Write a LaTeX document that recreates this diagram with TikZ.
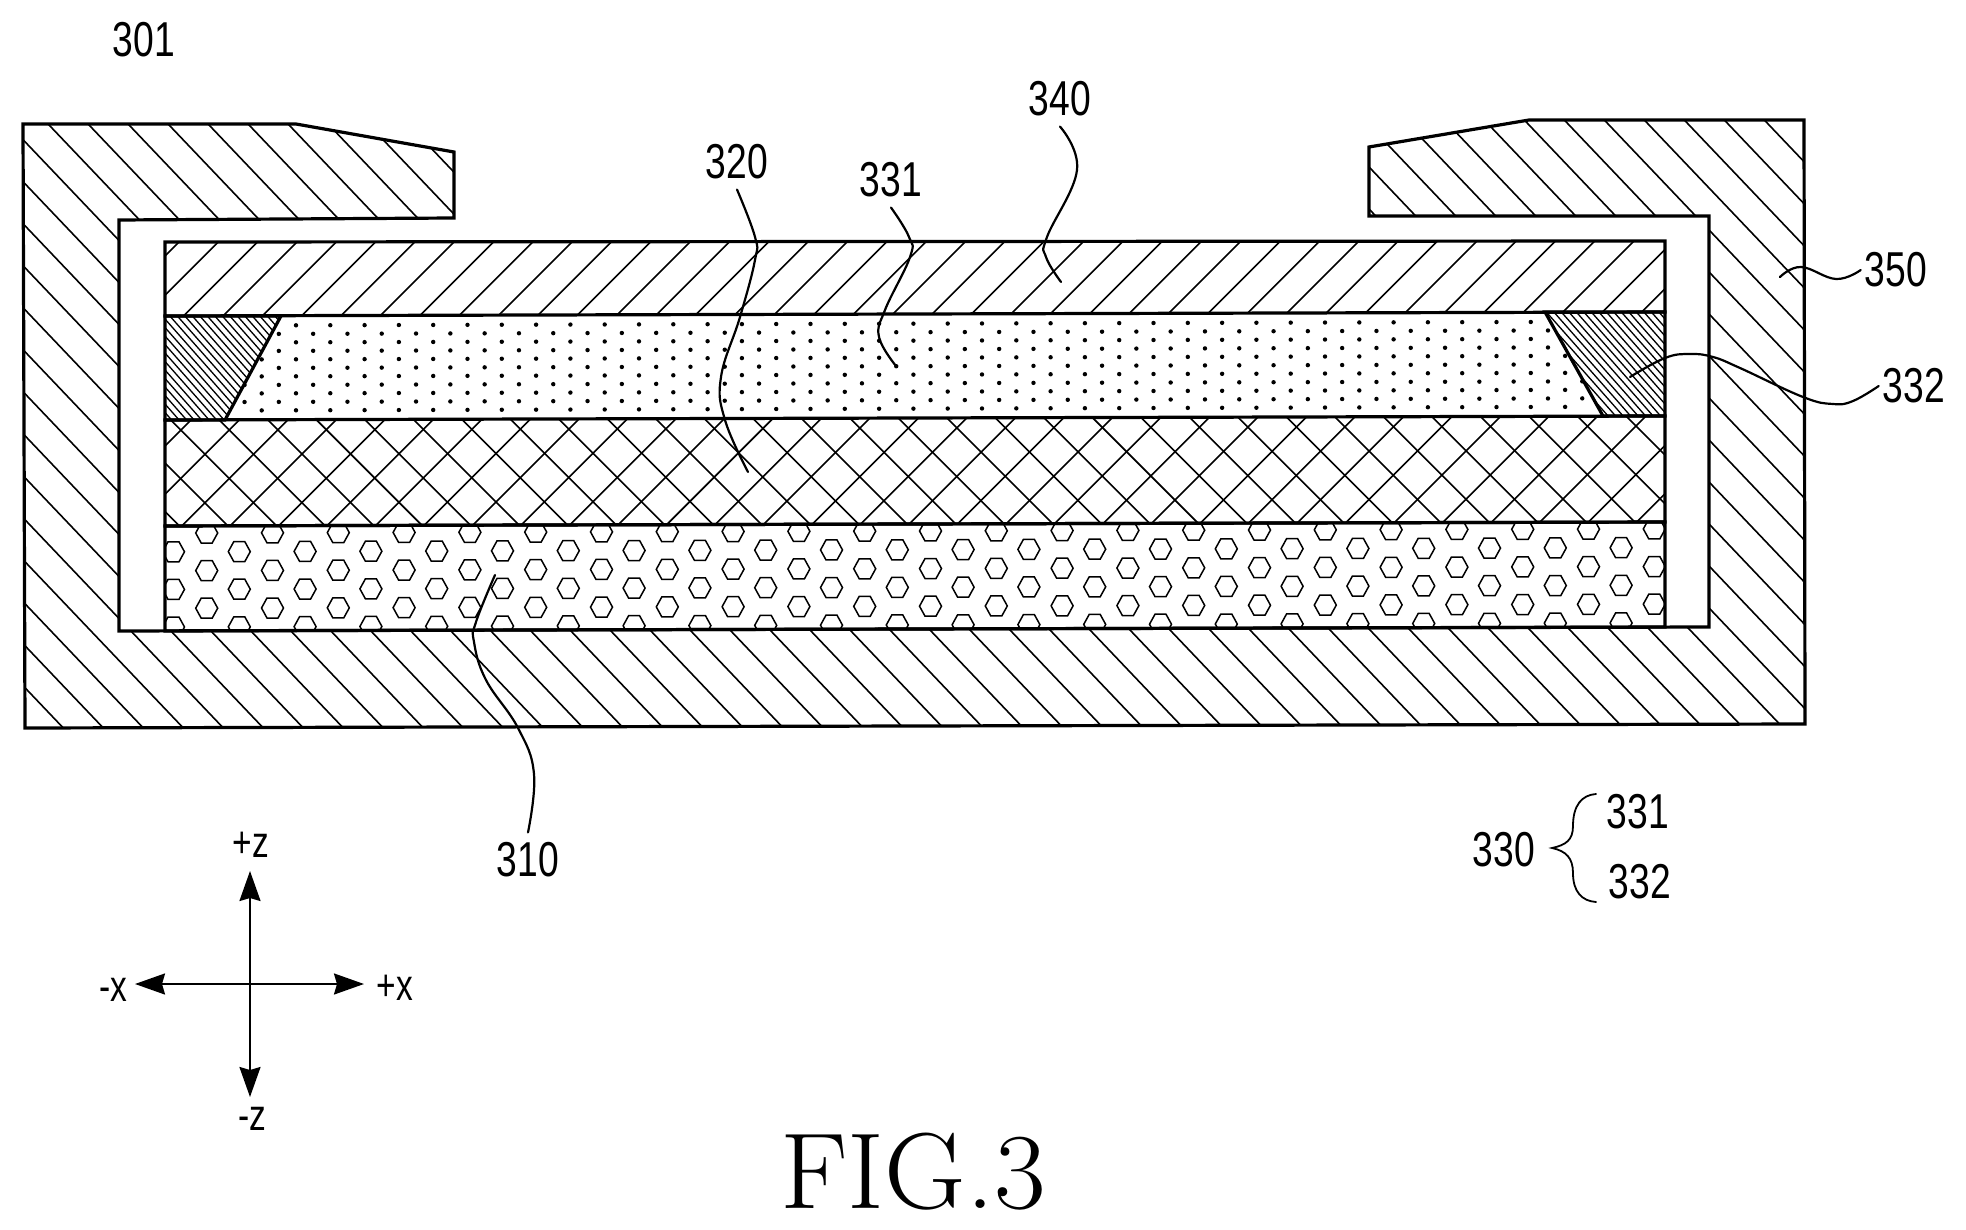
\documentclass[tikz,border=0pt]{standalone}
\usepackage{fontspec}
\usetikzlibrary{arrows.meta}
\newfontfamily\lblfont[FakeStretch=0.76]{Liberation Sans}
\tikzset{
	outline/.style={line width=3.2pt,line join=miter},
	hatchline/.style={line width=1.6pt},
	finehatch/.style={line width=1.3pt},
	hexcell/.style={line width=1.5pt},
	leader/.style={line width=2.2pt,line cap=round},
	bracket/.style={line width=1.8pt,line cap=round},
	lbl/.style={font=\lblfont\fontsize{49}{52}\selectfont,inner sep=10pt},
	axislbl/.style={font=\lblfont\fontsize{44}{46}\selectfont,inner sep=2pt},
	axisline/.style={line width=2.2pt,-{Stealth[length=30pt,width=21pt,inset=3pt]}},
}
\begin{document}
\begin{tikzpicture}[x=1pt,y=-1pt]
	\useasboundingbox (0,0) rectangle (1966,1230);
	
	% outlines
	\def\casepath{(23,124) -- (296,124) -- (454,152) -- (454,218) -- (119,220) -- (119,631) -- (1709,627) -- (1709,216) -- (1369,216) -- (1369,147) -- (1529,120) -- (1804,120) -- (1805,724) -- (25,728) -- cycle}
	\def\coverpath{(165,242) -- (1665,241) -- (1665,312) -- (165,316) -- cycle}
	\def\sheetpath{(281,316) -- (1545,312) -- (1603,416) -- (225,420) -- cycle}
	\def\leftpath{(165,316) -- (281,316) -- (225,420) -- (165,420) -- cycle}
	\def\rightpath{(1545,312) -- (1665,312) -- (1665,416) -- (1603,416) -- cycle}
	\def\gridpath{(165,420) -- (1665,416) -- (1665,522) -- (165,526) -- cycle}
	\def\basepath{(165,526) -- (1665,522) -- (1665,627) -- (165,631) -- cycle}
	
	% case hatching
	\begin{scope}
		\clip \casepath;
		\foreach \c in {-790,-750,...,1850}
			\draw[hatchline] (\c,0) -- ++(800,840);
	\end{scope}
	
	% cover
	\begin{scope}
		\clip \coverpath;
		\foreach \k in {0,...,41}
			\draw[hatchline] ({381.7+39.3*\k-200},200) -- ({381.7+39.3*\k-350},350);
	\end{scope}
	
	% dots
	\begin{scope}
		\clip \sheetpath;
		\foreach \j in {0,...,10}
			\foreach \k in {-13,...,28}
				\fill ({673.3+34.3*\k+17.15*mod(\j,2)},{324.3+8.5*\j-0.0027*34.3*\k}) circle (2.2pt);
	\end{scope}
	
	% side parts
	\begin{scope}
		\clip \leftpath;
		\foreach \c in {-300,-292.5,...,300}
			\draw[finehatch] (\c,200) -- ++(300,340);
	\end{scope}
	\begin{scope}
		\clip \rightpath;
		\foreach \c in {1200,1207.5,...,1700}
			\draw[finehatch] (\c,200) -- ++(300,340);
	\end{scope}
	
	% cross hatching
	\begin{scope}
		\clip \gridpath;
		\foreach \k in {-3,...,32} {
			\draw[hatchline] ({-249.3+48.64*\k+400},400) -- ({-249.3+48.64*\k+550},550);
			\draw[hatchline] ({659.3+48.37*\k-400},400) -- ({659.3+48.37*\k-550},550);
		}
	\end{scope}
	
	% hexagons
	\begin{scope}
		\clip \basepath;
		\foreach \j in {0,2,4}
			\foreach \k in {0,...,22}
				\draw[hexcell,shift={({206.7+65.8*\k},{533+18.8*\j-0.0028*65.8*\k})}] (11,0) -- ++(-5.5,-10) -- ++(-11,0) -- ++(-5.5,10) -- ++(5.5,10) -- ++(11,0) -- cycle;
		\foreach \j in {1,3,5}
			\foreach \k in {0,...,22}
				\draw[hexcell,shift={({173.5+65.8*\k},{533+18.8*\j-0.0028*65.8*\k})}] (11,0) -- ++(-5.5,-10) -- ++(-11,0) -- ++(-5.5,10) -- ++(5.5,10) -- ++(11,0) -- cycle;
	\end{scope}
	
	\draw[outline] \casepath;
	\draw[outline] \coverpath;
	\draw[outline] \leftpath;
	\draw[outline] \rightpath;
	\draw[outline] \gridpath;
	\draw[outline] \basepath;
	
	% labels
	\node[lbl] (n301) at (144,40) {301};
	\node[lbl] (n340) at (1060,99) {340};
	\node[lbl] (n320) at (737,162) {320};
	\node[lbl] (n331) at (891,180) {331};
	\node[lbl,inner sep=4pt] (n350) at (1896,270) {350};
	\node[lbl,inner sep=4pt] (n332) at (1914,386) {332};
	\node[lbl] (n310) at (528,860) {310};
	\node[lbl] (n330) at (1504,850) {330};
	\node[lbl] (n331b) at (1638,812) {331};
	\node[lbl] (n332b) at (1640,882) {332};
	
	% leader ends
	\coordinate (e340) at (1061,282);
	\coordinate (e320) at (748,472);
	\coordinate (e331) at (896,366);
	\coordinate (e350) at (1780,277);
	\coordinate (e332) at (1630,377);
	\coordinate (e310) at (495,575);
	
	\draw[leader] plot[smooth,tension=.7] coordinates {(n340.south) (1077,170) (1047,237) (1046,257) (e340)};
	\draw[leader] plot[smooth,tension=.7] coordinates {(n320.south) (755,237) (755,260) (740,317) (721,377) (725,420) (e320)};
	\draw[leader] plot[smooth,tension=.7] coordinates {(n331.south) (909,237) (910,257) (885,310) (879,337) (e331)};
	\draw[leader] plot[smooth,tension=.7] coordinates {(n350.west) (1836,279) (1801,267) (e350)};
	\draw[leader] plot[smooth,tension=.7] coordinates {(n332.west) (1853,401) (1833,404) (1803,397) (1740,368) (1713,357) (1690,354) (1665,358) (e332)};
	\draw[leader] plot[smooth,tension=.7] coordinates {(n310.north) (534,774) (518,728) (486,680) (474,642) (476,622) (e310)};
	
	% brace
	\coordinate (bt) at (1596,794);
	\coordinate (bb) at (1596,902);
	\coordinate (btip) at (1552,848);
	\draw[bracket] (bt) .. controls (1582,795) and (1573,805) .. (1573,826) .. controls (1573,840) and (1566,845) .. (btip) .. controls (1566,851) and (1573,858) .. (1573,873) .. controls (1573,892) and (1582,901) .. (bb);
	
	% axes
	\coordinate (ax0) at (250,984);
	\coordinate (axu) at (250,871);
	\coordinate (axd) at (250,1097);
	\coordinate (axl) at (135,984);
	\coordinate (axr) at (364,984);
	\draw[axisline] (ax0) -- (axu);
	\draw[axisline] (ax0) -- (axd);
	\draw[axisline] (ax0) -- (axl);
	\draw[axisline] (ax0) -- (axr);
	\node[axislbl] (lzp) at (251,845) {+z};
	\node[axislbl] (lzm) at (252,1119) {-z};
	\node[axislbl] (lxm) at (113,990) {-x};
	\node[axislbl] (lxp) at (395,988) {+x};
	
	\node[inner sep=0pt,transform shape,xscale=1.04,font=\rmfamily\fontsize{108}{110}\selectfont] (fig) at (913,1172) {FIG.3};
\end{tikzpicture}
\end{document}
